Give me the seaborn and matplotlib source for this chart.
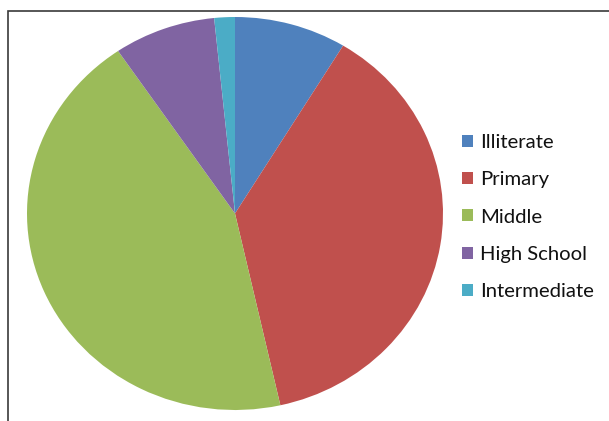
import matplotlib
matplotlib.use("Agg")
import matplotlib.pyplot as plt
import seaborn as sns
from matplotlib.patches import Rectangle

# data (share of each level, %)
levels = ["Illiterate", "Primary", "Middle", "High School", "Intermediate"]
shares = [8.7, 37.8, 44.0, 7.9, 1.6]
colors = ["#4F81BD", "#C0504D", "#9BBB59", "#8064A2", "#4BACC6"]

sns.set_theme(style="white")
plt.rcParams['font.family'] = ['Lato', 'DejaVu Sans']

W, H = 609, 421
fig = plt.figure(figsize=(W / 100, H / 100), dpi=100)

# pie area in pixels: x 27..443, y 17..410 (slightly wider than tall)
ax = fig.add_axes([27 / W, 11 / H, 416 / W, 393 / H])
pal = sns.color_palette(colors)
wedges, _ = ax.pie(shares, colors=pal, startangle=90, counterclock=False,
                   wedgeprops=dict(linewidth=0))
ax.set_aspect("auto")
ax.set_xlim(-1, 1)
ax.set_ylim(-1, 1)
ax.axis("off")

# chart frame, cut off at right and bottom like the screenshot
fig.patches.append(Rectangle((7.5 / W, -0.1), 1.2, 1 - 10.5 / H + 0.1,
                             transform=fig.transFigure, fill=False,
                             edgecolor="#3a3a3a", linewidth=1.2))

leg = fig.legend(wedges, levels, loc="upper left", bbox_to_anchor=(462 / W, 1 - 134 / H),
                 frameon=False, fontsize=14.6, handlelength=0.55, handleheight=0.55,
                 handletextpad=0.35, labelspacing=1.0, borderpad=0, borderaxespad=0)
for t in leg.get_texts():
    t.set_color("#111111")

fig.savefig("out.png", dpi=100)
